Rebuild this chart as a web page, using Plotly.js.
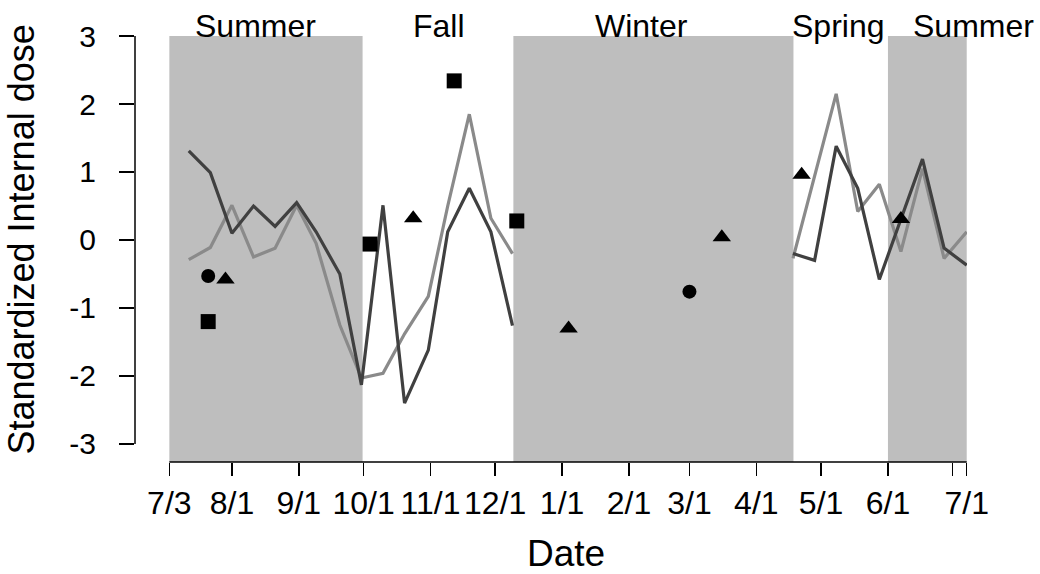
<!DOCTYPE html>
<html>
<head>
<meta charset="utf-8">
<script src="https://cdn.plot.ly/plotly-3.0.1.min.js"></script>
<style>html,body{margin:0;padding:0;background:#fff;}#chart{width:1040px;height:574px;}</style>
</head>
<body>
<div id="chart"></div>
<script>
// Line series, first segment (summer-fall) dates
const datesSummerFall = ['2008-07-12','2008-07-22','2008-08-01','2008-08-11','2008-08-21','2008-08-31','2008-09-09','2008-09-20','2008-09-30','2008-10-10','2008-10-20','2008-10-31','2008-11-09','2008-11-19','2008-11-29','2008-12-09'];
// second segment (spring-summer) dates
const datesSpringSummer = ['2009-04-18','2009-04-28','2009-05-08','2009-05-18','2009-05-28','2009-06-07','2009-06-17','2009-06-27','2009-07-07 12:00'];

const darkSummerFall = [1.31, 0.99, 0.10, 0.50, 0.20, 0.55, 0.12, -0.50, -2.13, 0.51, -2.40, -1.62, 0.12, 0.76, 0.12, -1.26];
const darkSpringSummer = [-0.20, -0.30, 1.38, 0.76, -0.58, 0.30, 1.19, -0.12, -0.37];
const lightSummerFall = [-0.29, -0.11, 0.51, -0.25, -0.12, 0.51, -0.05, -1.25, -2.03, -1.96, -1.38, -0.83, 0.50, 1.85, 0.32, -0.20];
const lightSpringSummer = [-0.27, 0.95, 2.15, 0.42, 0.82, -0.17, 1.05, -0.27, 0.12];

// Point markers
const circleDates = ['2008-07-21','2009-03-01'];
const circleValues = [-0.53, -0.76];
const triangleDates = ['2008-07-29','2008-10-24','2009-01-04','2009-03-16','2009-04-22','2009-06-07'];
const triangleValues = [-0.58, 0.32, -1.30, 0.04, 0.96, 0.31];
const squareDates = ['2008-07-21','2008-10-04','2008-11-12','2008-12-11'];
const squareValues = [-1.20, -0.06, 2.34, 0.28];

// Seasons (shaded periods)
const seasonNames = ['Summer','Fall','Winter','Spring','Summer'];
const shadedStarts = ['2008-07-03','2008-12-09 10:00','2009-06-01'];
const shadedEnds = ['2008-09-30 13:00','2009-04-18 05:00','2009-07-07 12:00'];

// Axis ticks
const xTickVals = ['2008-07-03','2008-08-01','2008-09-01','2008-10-01','2008-11-01','2008-12-01','2009-01-01','2009-02-01','2009-03-01','2009-04-01','2009-05-01','2009-06-01','2009-07-01','2009-07-07 12:00'];
const xTickText = ['7/3','8/1','9/1','10/1','11/1','12/1','1/1','2/1','3/1','4/1','5/1','6/1','','7/1'];
const yTickVals = [-3,-2,-1,0,1,2,3];
const yTickText = ['-3','-2','-1','0','1','2','3'];

const gapDate = '2009-01-15';
const FONT = 'Liberation Sans, Arial, sans-serif';

const traces = [
  {
    x: datesSummerFall.concat([gapDate], datesSpringSummer),
    y: lightSummerFall.concat([null], lightSpringSummer),
    mode: 'lines', type: 'scatter', connectgaps: false,
    line: {color: '#8a8a8a', width: 3.2}, showlegend: false, hoverinfo: 'skip'
  },
  {
    x: datesSummerFall.concat([gapDate], datesSpringSummer),
    y: darkSummerFall.concat([null], darkSpringSummer),
    mode: 'lines', type: 'scatter', connectgaps: false,
    line: {color: '#404040', width: 3.2}, showlegend: false, hoverinfo: 'skip'
  },
  {
    x: circleDates, y: circleValues, mode: 'markers', type: 'scatter', cliponaxis: false,
    marker: {symbol: 'circle', size: 14, color: '#000', line: {width: 0}}, showlegend: false
  },
  {
    x: triangleDates, y: triangleValues, mode: 'markers', type: 'scatter', cliponaxis: false,
    marker: {symbol: 'triangle-up', size: 16, color: '#000', line: {width: 0}}, showlegend: false
  },
  {
    x: squareDates, y: squareValues, mode: 'markers', type: 'scatter', cliponaxis: false,
    marker: {symbol: 'square', size: 15, color: '#000', line: {width: 0}}, showlegend: false
  }
];

const shapes = [];
for (let i = 0; i < shadedStarts.length; i++) {
  shapes.push({type: 'rect', xref: 'x', yref: 'paper', x0: shadedStarts[i], x1: shadedEnds[i], y0: 0, y1: 1,
    fillcolor: '#bebebe', line: {width: 0}, layer: 'below'});
}
// axis lines (drawn like R's offset axes)
shapes.push({type: 'line', xref: 'x', yref: 'paper', x0: xTickVals[0], x1: xTickVals[xTickVals.length-1], y0: 0, y1: 0,
  line: {color: '#000', width: 1.5}, layer: 'above'});
shapes.push({type: 'line', xref: 'paper', yref: 'y', x0: 0, x1: 0, y0: -3, y1: 3,
  line: {color: '#000', width: 1.5}, layer: 'above'});

const seasonX = [0.1448, 0.3654, 0.6082, 0.8450, 1.0078];
const annotations = seasonNames.map((s, i) => ({
  text: s, xref: 'paper', yref: 'paper', x: seasonX[i], y: 1, xanchor: 'center', yanchor: 'bottom',
  yshift: -10, showarrow: false, font: {family: FONT, size: 32, color: '#000'}
}));
annotations.push({text: 'Date', xref: 'paper', yref: 'paper', x: 0.518, y: -0.2155, xanchor: 'center', yanchor: 'middle',
  showarrow: false, font: {family: FONT, size: 37, color: '#000'}});
annotations.push({text: 'Standardized Internal dose', xref: 'paper', yref: 'paper', x: -0.1364, y: 0.521, xanchor: 'center', yanchor: 'middle',
  textangle: -90, showarrow: false, font: {family: FONT, size: 36, color: '#000'}});

const layout = {
  width: 1040, height: 574,
  margin: {l: 135, r: 73, t: 36, b: 112, pad: 0},
  paper_bgcolor: '#fff', plot_bgcolor: '#fff',
  showlegend: false,
  font: {family: FONT, color: '#000'},
  xaxis: {
    type: 'date', range: ['2008-06-17 02:00', '2009-07-07 15:00'],
    tickmode: 'array', tickvals: xTickVals, ticktext: xTickText,
    ticks: 'outside', ticklen: 13, tickwidth: 1.5, tickcolor: '#000',
    showgrid: false, zeroline: false, showline: false,
    tickfont: {family: FONT, size: 32, color: '#000'}, ticklabelstandoff: 0
  },
  yaxis: {
    range: [-3.265, 3], tickmode: 'array', tickvals: yTickVals, ticktext: yTickText,
    ticks: 'outside', ticklen: 15, tickwidth: 1.5, tickcolor: '#000',
    showgrid: false, zeroline: false, showline: false,
    tickfont: {family: FONT, size: 30, color: '#000'}, ticklabelstandoff: 17
  },
  shapes: shapes,
  annotations: annotations
};

Plotly.newPlot('chart', traces, layout, {staticPlot: true, displayModeBar: false});
</script>
</body>
</html>
